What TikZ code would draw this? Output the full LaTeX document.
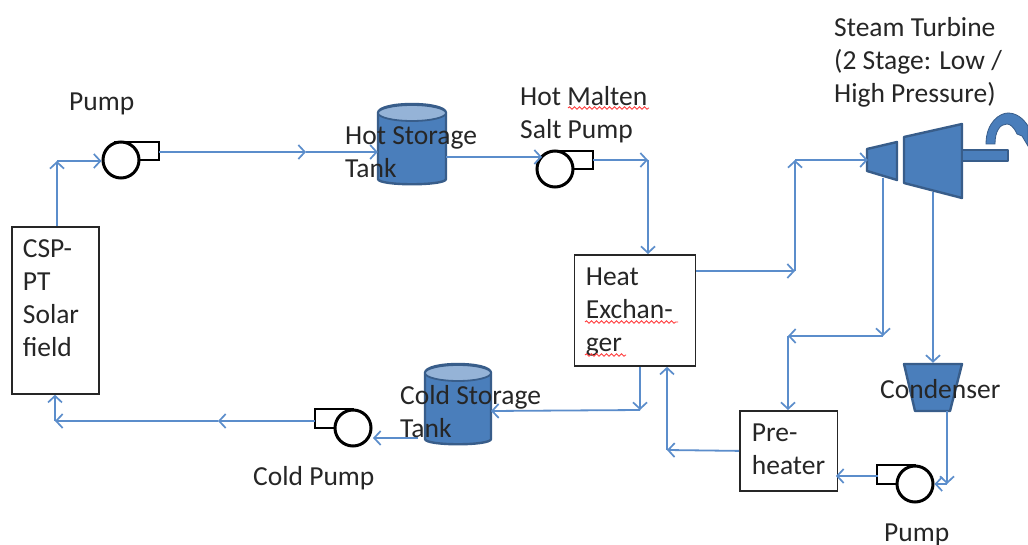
\documentclass[tikz,border=0pt]{standalone}
\usepackage{fontspec}
\setmainfont{Carlito}
\usetikzlibrary{arrows.meta,decorations.pathmorphing,calc}
\definecolor{flowc}{HTML}{5B8DCB}
\definecolor{solid}{HTML}{4A7EBB}
\definecolor{edge}{HTML}{385D8A}
\definecolor{tanktop}{HTML}{95B3D7}
\definecolor{txt}{HTML}{262626}
\newcommand{\boxtext}[5]{\parbox[c][#2pt][t]{#1pt}{\vspace*{#3pt}\raggedright\leftskip=#4pt\relax #5}}
\tikzset{
  x=1pt,y=-1pt,
  every node/.style={font=\fontsize{27.5}{33}\selectfont,text=txt},
  flow/.style={draw=flowc,line width=1.8pt,-{Straight Barb[length=6.5pt,width=14pt,line width=1.7pt]}},
  procbox/.style={draw=black!85,line width=1.8pt,fill=white,inner sep=0pt,anchor=north west},
  lbl/.style={inner sep=0pt,anchor=north west,align=left},
  port/.style={inner sep=0pt,minimum size=0pt,draw=none},
  pumpwheel/.style={circle,draw=black,line width=3pt,fill=white,minimum size=36pt,inner sep=0pt},
  pumpbox/.style={draw=black,line width=2.8pt,fill=white},
  shape fill/.style={fill=solid,draw=edge,line width=2.4pt,line join=round},
  squiggle/.style={draw=red!75!white,line width=0.9pt,decorate,decoration={snake,amplitude=1.2pt,segment length=5pt}}
}
\newcommand{\tankshape}[5]{% name, left, right, top, bottom
  \path[shape fill] (#2,#4+9) -- (#2,#5-9) .. controls (#2,#5-2) and (#3,#5-2) .. (#3,#5-9) -- (#3,#4+9)
     .. controls (#3,#4-3) and (#2,#4-3) .. (#2,#4+9) -- cycle;
  \path[fill=tanktop,draw=edge,line width=1.8pt] ({(#2+#3)/2},#4+9) ellipse [x radius={(#3-#2)/2},y radius=8];
  \node[port,minimum width={(#3-#2)*1pt},minimum height={(#5-#4)*1pt}] (#1) at ({(#2+#3)/2},{(#4+#5)/2}) {};
}
\begin{document}
\begin{tikzpicture}
\useasboundingbox[fill=white] (0,0) rectangle (1028,545);

% boxes
\node[procbox] (solar) at (11,226) {\boxtext{87}{167}{13}{11}{CSP-\\PT\\Solar\\field}};
\node[procbox] (hx) at (573.5,254) {\boxtext{121}{111}{12.5}{11.5}{Heat\\Exchan-\\ger}};
\node[procbox] (pre) at (739,410) {\boxtext{97.5}{80}{13}{12}{Pre-\\heater}};

% tanks
\tankshape{hot}{378}{446}{104}{188}
\tankshape{cold}{425}{491}{364}{448}

% pumps
\draw[pumpbox] (115,142) rectangle (159,160);
\node[pumpwheel] (pumpa) at (121,160) {};
\draw[pumpbox] (555,151) rectangle (593,169);
\node[pumpwheel] (pumpb) at (555,169) {};
\draw[pumpbox] (315,409) rectangle (353,428);
\node[pumpwheel] (pumpc) at (353,428) {};
\draw[pumpbox] (877,465) rectangle (915,484);
\node[pumpwheel] (pumpd) at (915,484) {};

% turbine
\path[shape fill] (867,149) -- (897,142) -- (897,180) -- (867,171) -- cycle;
\path[shape fill] (904,137) -- (962,124) -- (962,198) -- (904,183) -- cycle;
\path[shape fill,line width=1.4pt] (962,150) rectangle (1008,161);
\path[fill=solid,draw=edge,line width=0.8pt] (986,144) .. controls (986,122) and (1000,113) .. (1008,113)
   .. controls (1016,113) and (1023,118) .. (1028,126) -- (1028,146) -- (1022,136) -- (1017,134)
   .. controls (1014,127) and (1010,124) .. (1007,124) .. controls (1000,124) and (995,131) .. (995,144) -- cycle;
% condenser
\path[shape fill] (904,364) -- (962,364) -- (950,411) -- (915,411) -- cycle;
\node[port] (lowt) at (883,178) {};
\node[port] (hight) at (933,192) {};
\node[port] (condtop) at (933,363) {};
\node[port] (condout) at (947,411) {};
\node[port] (turbin) at (868,160) {};

% bends
\coordinate (a1) at (57,161);
\coordinate (a2) at (306,152);
\coordinate (b1) at (648,160);
\coordinate (c1) at (795,271);
\coordinate (c2) at (795,160);
\coordinate (d1) at (883,336);
\coordinate (d2) at (788,336);
\coordinate (e1) at (947,484);
\coordinate (f1) at (667,450);
\coordinate (g1) at (640,410);
\coordinate (h1) at (218,421);
\coordinate (h2) at (55,421);

% connectors
\draw[flow] (solar.north -| a1) -- (a1);
\draw[flow] (a1) -- (a1 -| pumpa.west);
\draw[flow] (159,152) -- (a2);
\draw[flow] (a2) -- (a2 -| hot.west);
\draw[flow] (446,157) -- (542,157);
\draw[flow] (593,160) -- (b1);
\draw[flow] (b1) -- (b1 |- hx.north);
\draw[flow] (c1 -| hx.east) -- (c1);
\draw[flow] (c1) -- (c2);
\draw[flow] (c2) -- (turbin);
\draw[flow] (lowt) -- (d1);
\draw[flow] (d1) -- (d2);
\draw[flow] (d2) -- (d2 |- pre.north);
\draw[flow] (hight) -- (condtop);
\draw[flow] (condout) -- (e1);
\draw[flow] (e1) -- (pumpd.east);
\draw[flow] (878,476) -- (836,476);
\draw[flow] (pre.west) -- (f1);
\draw[flow] (f1) -- (f1 |- hx.south);
\draw[flow] (g1 |- hx.south) -- (g1);
\draw[flow] (g1) -- (491,411);
\draw[flow] (418,438) -- (373,438);
\draw[flow] (315,421) -- (h1);
\draw[flow] (h1) -- (h2);
\draw[flow] (h2) -- (h2 |- solar.south);

% labels
\node[lbl] (lpa) at (69,93) {Pump};
\node[lbl] (lhot) at (345,126.5) {Hot Storage\\Tank};
\node[lbl] (lsalt) at (520,86) {Hot Malten\\Salt Pump};
\node[lbl] (lst) at (834,17) {Steam Turbine\\(2 Stage: Low /\\High Pressure)};
\node[lbl] (lcold) at (400,385.5) {Cold Storage\\Tank};
\node[lbl] (lcp) at (253,466) {Cold Pump};
\node[lbl] (lcond) at (880,379.5) {Condenser};
\node[lbl] (lpd) at (884,524) {Pump};

% spell-check marks
\draw[squiggle] (568,108) -- (649,108);
\draw[squiggle] (585,322) -- (678,322);
\draw[squiggle] (585,355) -- (626,355);
\end{tikzpicture}
\end{document}
